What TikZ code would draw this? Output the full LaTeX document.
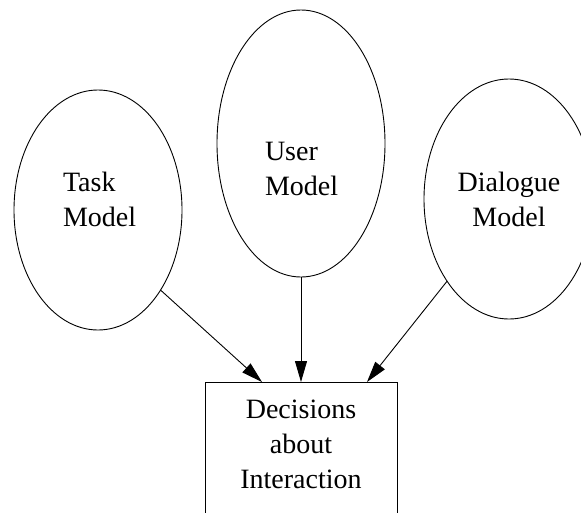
\documentclass[tikz,border=0pt]{standalone}
\usepackage{fontspec}
\setmainfont{Liberation Serif}
\usetikzlibrary{shapes.geometric,arrows.meta,calc}
\begin{document}
\begin{tikzpicture}[x=1pt,y=-1pt,
  model/.style={draw,ellipse,inner sep=0pt,outer sep=0pt,line width=0.9pt},
  decision/.style={draw,rectangle,inner sep=0pt,outer sep=0pt,line width=0.9pt},
  txt/.style={font=\fontsize{28}{35}\selectfont,inner sep=0pt,outer sep=0pt},
  flow/.style={line width=0.9pt,-{Triangle[length=21pt,width=12pt]}}]
\clip (0,0) rectangle (581,512);

% the three models
\node[model,minimum width=168pt,minimum height=240pt] (task) at (98,210) {};
\node[model,minimum width=168pt,minimum height=267pt] (user) at (301,143.5) {};
\node[model,minimum width=170pt,minimum height=240pt] (dialogue) at (509,199) {};

% the decision box (runs off the bottom edge)
\node[decision,minimum width=192pt,minimum height=200pt,anchor=north] (decide) at (301,382) {};

% labels
\node[txt,align=left,anchor=north west] (tasklbl) at (63,172) {Task\\Model};
\node[txt,align=left,anchor=north west] (userlbl) at (265,142) {User\\Model};
\node[txt,align=center,anchor=north] (dialoguelbl) at (509,172) {Dialogue\\Model};
\node[txt,align=center,anchor=north] (decidelbl) at (301,400) {Decisions\\about\\Interaction};

% arrows into the decision box
\draw[flow] (task.-52.9) -- ($(decide.north)+(-39,0)$);
\draw[flow] (user.south) -- (decide.north);
\draw[flow] (dialogue.233.5) -- ($(decide.north)+(66,0)$);
\end{tikzpicture}
\end{document}
